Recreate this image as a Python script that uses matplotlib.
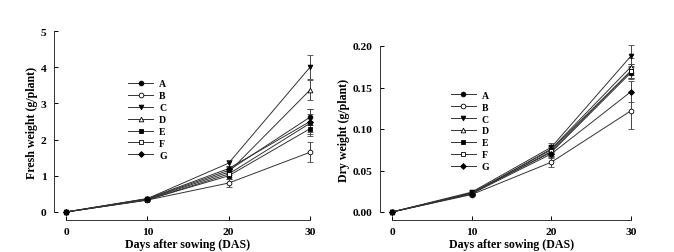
import numpy as np
import matplotlib.pyplot as plt
from matplotlib.lines import Line2D

plt.rcParams['font.family'] = 'Liberation Serif'
plt.rcParams['font.weight'] = 'bold'

days = [0, 10, 20, 30]
labels = ['A', 'B', 'C', 'D', 'E', 'F', 'G']
markers = ['o', 'o', 'v', '^', 's', 's', 'D']
filled = [True, False, True, False, True, False, True]

# Fresh weight (g/plant)
fresh_A = [0, 0.36, 1.15, 2.62]
fresh_B = [0, 0.33, 0.80, 1.65]
fresh_C = [0, 0.37, 1.35, 4.00]
fresh_D = [0, 0.35, 1.10, 3.37]
fresh_E = [0, 0.34, 1.00, 2.30]
fresh_F = [0, 0.33, 1.05, 2.45]
fresh_G = [0, 0.37, 1.20, 2.50]
fresh_err_A = [0, 0.02, 0.08, 0.22]
fresh_err_B = [0, 0.03, 0.12, 0.28]
fresh_err_C = [0, 0.03, 0.08, 0.33]
fresh_err_D = [0, 0.02, 0.08, 0.28]
fresh_err_E = [0, 0.02, 0.08, 0.20]
fresh_err_F = [0, 0.02, 0.08, 0.25]
fresh_err_G = [0, 0.02, 0.08, 0.35]

# Dry weight (g/plant)
dry_A = [0, 0.023, 0.072, 0.168]
dry_B = [0, 0.021, 0.060, 0.122]
dry_C = [0, 0.024, 0.078, 0.188]
dry_D = [0, 0.022, 0.076, 0.175]
dry_E = [0, 0.023, 0.075, 0.170]
dry_F = [0, 0.022, 0.073, 0.170]
dry_G = [0, 0.022, 0.070, 0.145]
dry_err_A = [0, 0.002, 0.005, 0.008]
dry_err_B = [0, 0.002, 0.006, 0.022]
dry_err_C = [0, 0.002, 0.005, 0.013]
dry_err_D = [0, 0.002, 0.005, 0.010]
dry_err_E = [0, 0.002, 0.005, 0.008]
dry_err_F = [0, 0.002, 0.005, 0.008]
dry_err_G = [0, 0.002, 0.005, 0.013]

fresh = [fresh_A, fresh_B, fresh_C, fresh_D, fresh_E, fresh_F, fresh_G]
fresh_err = [fresh_err_A, fresh_err_B, fresh_err_C, fresh_err_D, fresh_err_E, fresh_err_F, fresh_err_G]
dry = [dry_A, dry_B, dry_C, dry_D, dry_E, dry_F, dry_G]
dry_err = [dry_err_A, dry_err_B, dry_err_C, dry_err_D, dry_err_E, dry_err_F, dry_err_G]

fig = plt.figure(figsize=(6.74, 2.53), dpi=100)
ax1 = fig.add_axes([66/674, 40/253, 244/674, 181/253])
ax2 = fig.add_axes([392/674, 40/253, 239/674, 166/253])


def draw(ax, series, errs, ylim, yticks, yfmt, ylabel, leg_xy):
    handles = []
    for i in range(len(series)):
        ms = 3.4 if markers[i] != 'D' else 3.0
        mfc = 'black' if filled[i] else 'white'
        ax.errorbar(days, series[i], yerr=errs[i], color='#333333', lw=0.7,
                    marker=markers[i], ms=ms, mfc=mfc, mec='black', mew=0.6,
                    ecolor='#444444', elinewidth=0.7, capsize=2.5, capthick=0.7,
                    clip_on=False)
        handles.append(Line2D([], [], color='#333333', lw=0.7, marker=markers[i],
                              ms=ms, mfc=mfc, mec='black', mew=0.6, label=labels[i]))
    ax.set_xlim(0, 30)
    ax.set_ylim(*ylim)
    ax.set_xticks([0, 10, 20, 30])
    ax.set_yticks(yticks)
    ax.set_yticklabels([yfmt.format(v) for v in yticks])
    for s in ['top', 'right']:
        ax.spines[s].set_visible(False)
    ax.spines['left'].set_position(('outward', 9))
    ax.spines['bottom'].set_position(('outward', 6))
    for s in ['left', 'bottom']:
        ax.spines[s].set_linewidth(0.7)
        ax.spines[s].set_color('#333333')
    ax.tick_params(direction='in', length=3, width=0.7, labelsize=8.2, pad=5)
    ax.set_xlabel('Days after sowing (DAS)', fontsize=8.6, fontweight='bold', labelpad=1)
    ax.set_ylabel(ylabel, fontsize=8.6, fontweight='bold', labelpad=2)
    ax.legend(handles=handles, loc='upper left', bbox_to_anchor=leg_xy, frameon=False,
              handlelength=2.6, handletextpad=0.6, labelspacing=0.3,
              borderpad=0, prop={'weight': 'bold', 'size': 7})


draw(ax1, fresh, fresh_err, (0, 5), [0, 1, 2, 3, 4, 5], '{:.0f}',
     'Fresh weight (g/plant)', (0.235, 0.76))
draw(ax2, dry, dry_err, (0, 0.2), [0, 0.05, 0.10, 0.15, 0.20], '{:.2f}',
     'Dry weight (g/plant)', (0.225, 0.76))

fig.savefig('out.png', dpi=100)
